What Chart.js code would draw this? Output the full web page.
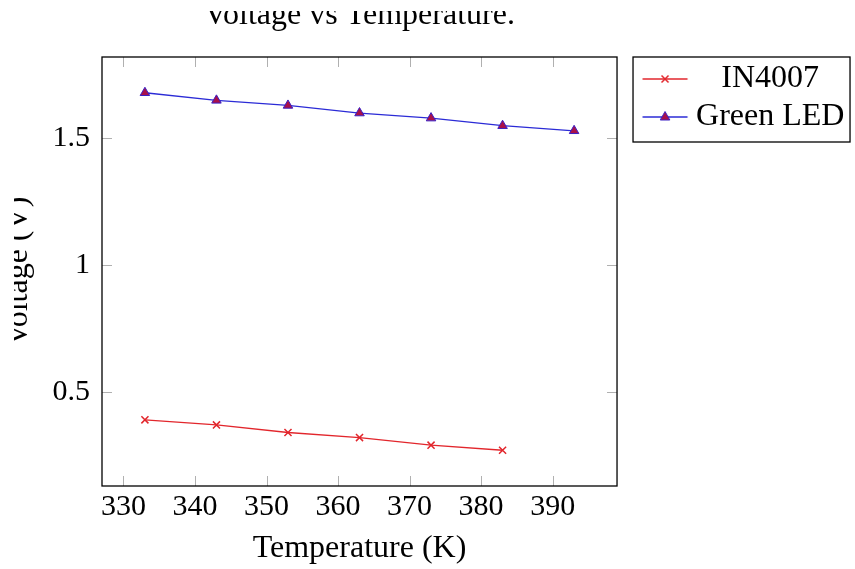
<!DOCTYPE html>
<html>
<head>
<meta charset="utf-8">
<script src="https://cdn.jsdelivr.net/npm/chart.js@4.4.1/dist/chart.umd.min.js"></script>
<style>
  html, body { margin: 0; padding: 0; background: #fff; overflow: hidden; }
  #wrap { position: absolute; left: 14px; top: 11px; width: 841px; height: 558px; }
</style>
</head>
<body>
<div id="wrap"><canvas id="voltageChart" width="841" height="558"></canvas></div>
<script>
// Datos
const temperaturas = [333, 343, 353, 363, 373, 383, 393];
const voltajeDiodo = [0.39, 0.37, 0.34, 0.32, 0.29, 0.27];
const voltajeLed = [1.68, 1.65, 1.63, 1.60, 1.58, 1.55, 1.53];
const ticksX = [330, 340, 350, 360, 370, 380, 390];
const ticksY = [0.5, 1, 1.5];

const fuente = "'Liberation Serif', 'Times New Roman', serif";
const rojo = "#e2262c";
const azul = "#2b2bd6";

// Muestra de leyenda: linea con la marca, corrida a la derecha del centro
function muestraLeyenda(color, dibujarMarca) {
  const c = document.createElement("canvas");
  c.width = 120;
  c.height = 20;
  const g = c.getContext("2d");
  g.strokeStyle = color;
  g.lineWidth = 1.3;
  g.beginPath();
  g.moveTo(53.5, 10);
  g.lineTo(98.5, 10);
  g.stroke();
  dibujarMarca(g, 76, 10);
  return c;
}

const iconoDiodo = muestraLeyenda(rojo, (g, x, y) => {
  g.lineWidth = 1.5;
  g.beginPath();
  g.moveTo(x - 3.5, y - 3.5); g.lineTo(x + 3.5, y + 3.5);
  g.moveTo(x - 3.5, y + 3.5); g.lineTo(x + 3.5, y - 3.5);
  g.stroke();
});

const iconoLed = muestraLeyenda(azul, (g, x, y) => {
  g.fillStyle = "#a8104a";
  g.strokeStyle = "#3b1fc4";
  g.lineWidth = 1;
  g.beginPath();
  g.moveTo(x, y - 5.5);
  g.lineTo(x + 4.8, y + 3);
  g.lineTo(x - 4.8, y + 3);
  g.closePath();
  g.fill();
  g.stroke();
});

// Marco estilo pgfplots: caja negra y marcas internas grises
const marcoPgf = {
  id: "marcoPgf",
  beforeDatasetsDraw(chart) {
    const { ctx, chartArea: a, scales } = chart;
    ctx.save();
    ctx.strokeStyle = "#b0b0b0";
    ctx.lineWidth = 1;
    ctx.beginPath();
    scales.x.ticks.forEach((t) => {
      const px = Math.round(scales.x.getPixelForValue(t.value)) + 0.5;
      ctx.moveTo(px, a.bottom); ctx.lineTo(px, a.bottom - 10);
      ctx.moveTo(px, a.top); ctx.lineTo(px, a.top + 10);
    });
    scales.y.ticks.forEach((t) => {
      const py = Math.round(scales.y.getPixelForValue(t.value)) + 0.5;
      ctx.moveTo(a.left, py); ctx.lineTo(a.left + 10, py);
      ctx.moveTo(a.right, py); ctx.lineTo(a.right - 10, py);
    });
    ctx.stroke();
    ctx.restore();
  },
  afterDraw(chart) {
    const { ctx, chartArea: a } = chart;
    const l = chart.legend;
    ctx.save();
    ctx.strokeStyle = "#000";
    ctx.lineWidth = 1.3;
    ctx.strokeRect(a.left, a.top, a.right - a.left, a.bottom - a.top);
    ctx.strokeRect(l.left + 16, l.top, 217, 85);
    ctx.restore();
  },
};

const ctx = document.getElementById("voltageChart").getContext("2d");
const voltageChart = new Chart(ctx, {
  type: "line",
  data: {
    datasets: [
      {
        label: "IN4007",
        data: voltajeDiodo.map((v, i) => ({ x: temperaturas[i], y: v })),
        borderColor: rojo,
        borderWidth: 1.3,
        pointStyle: "crossRot",
        pointRadius: 5,
        pointBorderWidth: 1.5,
        pointBorderColor: rojo,
        tension: 0,
      },
      {
        label: "Green LED",
        data: voltajeLed.map((v, i) => ({ x: temperaturas[i], y: v })),
        borderColor: azul,
        borderWidth: 1.3,
        pointStyle: "triangle",
        pointRadius: 5.5,
        pointBorderWidth: 1,
        pointBackgroundColor: "#a8104a",
        pointBorderColor: "#3b1fc4",
        tension: 0,
      },
    ],
  },
  options: {
    responsive: false,
    animation: false,
    layout: { padding: { left: 0, top: 0, bottom: 0, right: 5.6 } },
    scales: {
      x: {
        type: "linear",
        min: 327,
        max: 399,
        grid: { display: false, drawTicks: false },
        border: { display: false },
        afterBuildTicks: (scale) => {
          scale.ticks = ticksX.map((v) => ({ value: v }));
        },
        afterFit: (scale) => {
          scale.height = 83;
        },
        ticks: {
          color: "#000",
          padding: 3,
          font: { family: fuente, size: 30 },
        },
        title: {
          display: true,
          text: "Temperature (K)",
          color: "#000",
          font: { family: fuente, size: 32 },
          padding: { top: 0, bottom: 1 },
        },
      },
      y: {
        min: 0.129,
        max: 1.821,
        grid: { display: false, drawTicks: false },
        border: { display: false },
        afterBuildTicks: (scale) => {
          scale.ticks = ticksY.map((v) => ({ value: v }));
        },
        afterFit: (scale) => {
          scale.width = 88;
        },
        ticks: {
          color: "#000",
          padding: 12,
          font: { family: fuente, size: 30 },
          callback: (valor) => String(valor),
        },
        title: {
          display: true,
          text: "Voltage (V)",
          color: "#000",
          font: { family: fuente, size: 32 },
          padding: { top: -15, bottom: 0 },
        },
      },
    },
    plugins: {
      title: {
        display: true,
        fullSize: false,
        text: "Voltage vs Temperature.",
        color: "#000",
        font: { family: fuente, size: 32, weight: "normal" },
        padding: { top: -15, bottom: 22.6 },
      },
      legend: {
        position: "right",
        align: "start",
        fullSize: false,
        maxWidth: 300,
        labels: {
          usePointStyle: true,
          pointStyleWidth: 52,
          padding: 6,
          color: "#000",
          textAlign: "center",
          font: { family: fuente, size: 32 },
          generateLabels: (chart) => {
            const items = Chart.defaults.plugins.legend.labels.generateLabels(chart);
            const iconos = [iconoDiodo, iconoLed];
            items.forEach((it, i) => {
              it.pointStyle = iconos[i];
            });
            return items;
          },
        },
      },
      tooltip: { enabled: false },
    },
  },
  plugins: [marcoPgf],
});
</script>
</body>
</html>
